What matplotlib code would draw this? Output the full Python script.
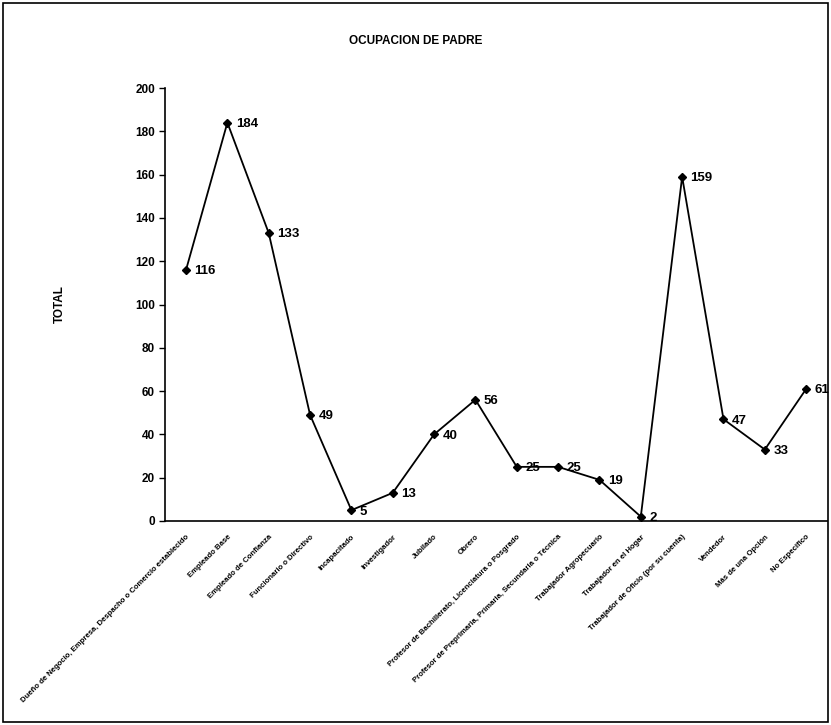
import matplotlib
matplotlib.use("Agg")
import matplotlib.pyplot as plt
from matplotlib.patches import Rectangle

categorias = [
    "Dueño de Negocio, Empresa, Despacho o Comercio establecido",
    "Empleado Base",
    "Empleado de Confianza",
    "Funcionario o Directivo",
    "Incapacitado",
    "Investigador",
    "Jubilado",
    "Obrero",
    "Profesor de Bachillerato, Licenciatura o Posgrado",
    "Profesor de Preprimaria, Primaria, Secundaria o Técnica",
    "Trabajador Agropecuario",
    "Trabajador en el Hogar",
    "Trabajador de Oficio (por su cuenta)",
    "Vendedor",
    "Más de una Opción",
    "No Especifico",
]
totales = [116, 184, 133, 49, 5, 13, 40, 56, 25, 25, 19, 2, 159, 47, 33, 61]
yticks = list(range(0, 201, 20))

plt.rcParams['font.family'] = ['Liberation Sans', 'DejaVu Sans']

fig = plt.figure(figsize=(8.31, 7.25), dpi=100)
ax = fig.add_axes([0.199, 0.2814, 0.796, 0.5972])

x = list(range(len(categorias)))
ax.plot(x, totales, color='black', linewidth=1.3, marker='D', markersize=4.5,
        markerfacecolor='black', markeredgecolor='black')

for xi, v in zip(x, totales):
    ax.annotate(str(v), (xi, v), xytext=(6, -1), textcoords='offset points',
                fontsize=9.5, fontweight='bold', ha='left', va='center')

ax.set_xlim(-0.5, len(categorias) - 0.5)
ax.set_ylim(0, 200)
ax.set_yticks(yticks)
ax.set_yticklabels([str(t) for t in yticks], fontsize=8.5, fontweight='bold')
ax.set_xticks(x)
ax.set_xticklabels(categorias, rotation=45, ha='right', rotation_mode='anchor',
                   fontsize=5.6, fontweight='bold')
ax.tick_params(axis='x', length=0, pad=9)
ax.tick_params(axis='y', length=4, width=1, direction='out')

ax.spines['top'].set_visible(False)
ax.spines['right'].set_visible(False)
ax.spines['left'].set_linewidth(1.2)
ax.spines['bottom'].set_linewidth(1.2)

ax.set_ylabel('TOTAL', fontsize=8.5, fontweight='bold', labelpad=50)
fig.text(0.5, 0.943, 'OCUPACION DE PADRE', ha='center', va='center',
         fontsize=8.5, fontweight='bold')

fig.patches.append(Rectangle((0.004, 0.004), 0.992, 0.992, transform=fig.transFigure,
                             fill=False, edgecolor='black', linewidth=1.2))

fig.savefig('out.png', dpi=100, facecolor='white')
